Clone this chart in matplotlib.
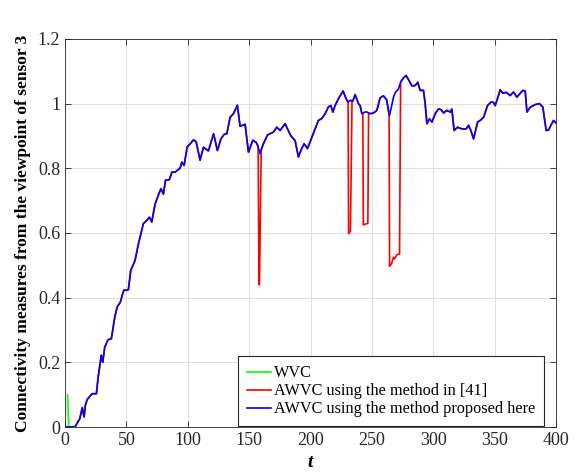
import matplotlib
matplotlib.use("Agg")
import matplotlib.pyplot as plt
import numpy as np

plt.rcParams['font.family'] = ['Liberation Serif', 'DejaVu Serif']

# AWVC using the method proposed here (blue)
t_blue = [0, 3, 8, 12, 14, 15.5, 16.5, 18, 22, 25.5, 27, 29.5, 30.7, 32.3, 35, 37.7,
          40.5, 42.4, 45, 47.8, 50.5, 51.6, 53.5, 57, 59.8, 63.8, 66.6, 68.7, 70.6,
          73.4, 76.9, 78.2, 80.1, 81.8, 85, 87, 89.6, 91.5, 93.7, 95.1, 97, 99.5, 102,
          104.6, 106.8, 110, 112.7, 116.8, 121, 124.1, 127, 129.6, 131.8, 134.5, 137.2,
          140.4, 142.6, 146.7, 149.4, 153, 155.7, 157, 158.9, 161.6, 164.9, 169.8,
          172.5, 175.2, 179.3, 181.2, 184, 187.4, 190.1, 192.9, 194.8, 197.5, 201.1,
          203.7, 206.4, 209.2, 211.9, 214.6, 216.5, 218.2, 220, 222.7, 226.5, 229,
          230.5, 232.3, 234.5, 236.3, 239, 240.4, 241.8, 243.1, 245.3, 248.6, 251.3,
          254, 256.7, 259.4, 262, 264.3, 267.6, 269, 271.6, 273.6, 275.8, 277.9, 279.8,
          282.6, 285.3, 287.4, 289.3, 292, 293.4, 294.8, 296.9, 298.9, 301.6, 304.3,
          306.5, 308.3, 311, 313.8, 315.1, 317, 319.7, 323.3, 326.8, 328.7, 330.6,
          332.8, 336.1, 338.2, 341, 344.2, 347, 349, 350.4, 352.3, 354.5, 356.7, 359.4,
          362.7, 365.4, 368.1, 370.8, 373, 374.9, 376.3, 379, 383, 386.5, 389.3, 390.4,
          392, 393.9, 395.8, 398, 400]
y_blue = [0, 0, 0, 0.026, 0.06, 0.031, 0.067, 0.085, 0.103, 0.103, 0.155, 0.222, 0.20,
          0.247, 0.27, 0.273, 0.34, 0.371, 0.386, 0.423, 0.423, 0.425, 0.484, 0.515,
          0.567, 0.629, 0.639, 0.649, 0.634, 0.69, 0.726, 0.737, 0.72, 0.763, 0.765,
          0.788, 0.788, 0.794, 0.80, 0.819, 0.809, 0.866, 0.876, 0.888, 0.882, 0.825,
          0.865, 0.854, 0.907, 0.855, 0.891, 0.905, 0.907, 0.958, 0.969, 0.995, 0.93,
          0.936, 0.85, 0.887, 0.88, 0.87, 0.845, 0.876, 0.903, 0.912, 0.927, 0.917,
          0.938, 0.922, 0.9, 0.886, 0.835, 0.862, 0.876, 0.861, 0.896, 0.922, 0.948,
          0.954, 0.969, 0.99, 0.994, 0.974, 0.994, 1.015, 1.039, 1.015, 1.005, 1.01,
          1.008, 1.028, 1.0, 0.994, 0.969, 0.972, 0.975, 0.969, 0.971, 0.979, 1.018,
          1.024, 1.012, 0.963, 1.02, 1.034, 1.045, 1.068, 1.08, 1.087, 1.074, 1.055,
          1.056, 1.066, 1.041, 1.041, 1.0, 0.938, 0.953, 0.943, 0.969, 0.984, 0.981,
          0.971, 0.979, 0.974, 0.983, 0.917, 0.927, 0.922, 0.922, 0.933, 0.917, 0.891,
          0.943, 0.948, 0.958, 0.994, 1.005, 1.004, 0.994, 1.015, 1.043, 1.032, 1.035,
          1.025, 1.036, 1.02, 1.032, 1.041, 1.039, 0.974, 0.989, 0.997, 1.0, 0.989,
          0.958, 0.917, 0.918, 0.933, 0.948, 0.94]

# AWVC using the method in [41] (red): same as blue except for these dips
dips_t = [[157.3, 158.0, 158.4, 159.8],
          [230.6, 231.0, 232.5, 233.8],
          [242.6, 243.0, 246.7, 247.3],
          [264.0, 264.4, 266.0, 267.6, 268.5, 270.3, 272.5, 273.4]]
dips_y = [[0.87, 0.44, 0.44, 0.86],
          [1.005, 0.598, 0.605, 1.01],
          [0.97, 0.625, 0.63, 0.97],
          [0.965, 0.497, 0.505, 0.525, 0.52, 0.533, 0.535, 1.066]]

# WVC (green)
t_green = [2, 3, 8]
y_green = [0.1, 0, 0]

tb = np.array(t_blue)
yb = np.array(y_blue)
keep = np.ones(len(tb), dtype=bool)
for dt in dips_t:
    keep &= ~((tb >= dt[0]) & (tb <= dt[-1]))
t_red = np.concatenate([tb[keep]] + [np.array(d) for d in dips_t])
y_red = np.concatenate([yb[keep]] + [np.array(d) for d in dips_y])
order = np.argsort(t_red, kind='stable')
t_red, y_red = t_red[order], y_red[order]

fig = plt.figure(figsize=(5.81, 4.75), dpi=100)
ax = fig.add_axes([0.112, 0.101, 0.845, 0.817])

ax.plot(t_green, y_green, color=(0, 1, 0), lw=1.2, label='WVC')
ax.plot(t_red, y_red, color=(1, 0, 0), lw=1.2, label='AWVC using the method in [41]')
ax.plot(t_blue, y_blue, color=(0, 0, 1), lw=1.2, label='AWVC using the method proposed here')

ax.set_xlim(0, 400)
ax.set_ylim(0, 1.2)
ax.set_xticks(np.arange(0, 401, 50))
ax.set_yticks([0, 0.2, 0.4, 0.6, 0.8, 1, 1.2])
ax.set_yticklabels(['0', '0.2', '0.4', '0.6', '0.8', '1', '1.2'])
ax.grid(True, color='#e0e0e0', lw=0.8)
ax.set_axisbelow(True)
ax.tick_params(direction='in', top=True, right=True, labelsize=13, colors='#262626',
               length=4, width=0.6)
for s in ax.spines.values():
    s.set_color('#262626')
    s.set_linewidth(0.6)

ax.set_xlabel('t', fontsize=14, fontweight='bold', fontstyle='italic', labelpad=4)
ax.set_ylabel('Connectivity measures from the viewpoint of sensor 3', fontsize=12.5,
              fontweight='bold', labelpad=5)

leg = ax.legend(loc='lower right', bbox_to_anchor=(0.978, 0.0), fontsize=11.7,
                fancybox=False, edgecolor='#262626', framealpha=1,
                handlelength=1.5, handletextpad=0.2, borderpad=0.55,
                labelspacing=0.12, borderaxespad=0.05)
leg.get_frame().set_linewidth(0.8)

fig.savefig('out.png', dpi=100)
